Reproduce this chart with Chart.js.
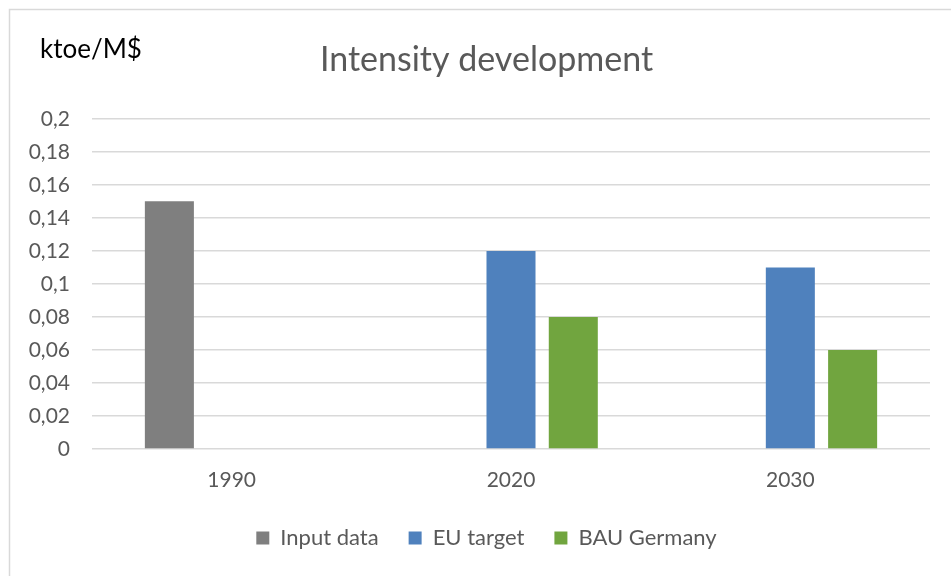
<!DOCTYPE html>
<html>
<head>
<meta charset="utf-8">
<script src="https://cdn.jsdelivr.net/npm/chart.js@4"></script>
<style>
  html, body { margin: 0; padding: 0; background: #ffffff; }
  #wrap { position: relative; width: 951px; height: 576px; }
</style>
</head>
<body>
<div id="wrap"><canvas id="c" width="951" height="576"></canvas></div>
<script>
const categories = ['1990', '2020', '2030'];
const seriesNames = ['Input data', 'EU target', 'BAU Germany'];
const inputData = [0.15, null, null];
const euTarget = [null, 0.12, 0.11];
const bauGermany = [null, 0.08, 0.06];
const yTicks = [0, 0.02, 0.04, 0.06, 0.08, 0.1, 0.12, 0.14, 0.16, 0.18, 0.2];

const FONT = 'Lato, "Open Sans", sans-serif';
const GREY_TEXT = '#595959';

const framePlugin = {
  id: 'frame',
  beforeDraw(chart) {
    const ctx = chart.ctx;
    ctx.save();
    ctx.fillStyle = '#ffffff';
    ctx.fillRect(0, 0, chart.width, chart.height);
    ctx.strokeStyle = '#d9d9d9';
    ctx.lineWidth = 1.5;
    ctx.strokeRect(9.5, 9.5, 2000, 2000);
    ctx.restore();
  },
  afterDraw(chart) {
    const ctx = chart.ctx;
    ctx.save();
    ctx.fillStyle = '#000000';
    ctx.font = '26px ' + FONT;
    ctx.textBaseline = 'alphabetic';
    ctx.textAlign = 'left';
    ctx.fillText('ktoe/M$', 40, 58);
    ctx.restore();
  }
};

new Chart(document.getElementById('c'), {
  type: 'bar',
  data: {
    labels: categories,
    datasets: [
      { label: seriesNames[0], data: inputData, backgroundColor: '#7f7f7f' },
      { label: seriesNames[1], data: euTarget, backgroundColor: '#4f81bd' },
      { label: seriesNames[2], data: bauGermany, backgroundColor: '#71a53f' }
    ]
  },
  options: {
    responsive: false,
    devicePixelRatio: 1,
    animation: false,
    categoryPercentage: 0.669,
    barPercentage: 0.787,
    layout: { padding: { left: 43, right: 21, top: 0, bottom: 17 } },
    plugins: {
      title: {
        display: true,
        text: 'Intensity development',
        color: GREY_TEXT,
        font: { family: FONT, size: 34, weight: 'normal' },
        padding: { top: 40, bottom: 38 }
      },
      legend: {
        position: 'bottom',
        labels: {
          color: GREY_TEXT,
          font: { family: FONT, size: 22 },
          boxWidth: 13,
          boxHeight: 13,
          padding: 30
        }
      },
      tooltip: { enabled: false }
    },
    scales: {
      x: {
        grid: { display: false },
        border: { display: false },
        afterFit(scale) { scale.height = 48; },
        ticks: { color: GREY_TEXT, font: { family: FONT, size: 21 }, padding: 11 }
      },
      y: {
        min: 0,
        max: 0.2,
        afterBuildTicks(scale) { scale.ticks = yTicks.map(v => ({ value: v })); },
        afterFit(scale) {
          scale.width = 49;
          scale._computeLabelArea = () => undefined;
        },
        grid: { color: '#d9d9d9', lineWidth: 1.5, drawTicks: false },
        border: { display: false },
        ticks: {
          color: GREY_TEXT,
          font: { family: FONT, size: 21 },
          padding: 22,
          callback: (v) => String(Math.round(v * 100) / 100).replace('.', ',')
        }
      }
    }
  },
  plugins: [framePlugin]
});
</script>
</body>
</html>
